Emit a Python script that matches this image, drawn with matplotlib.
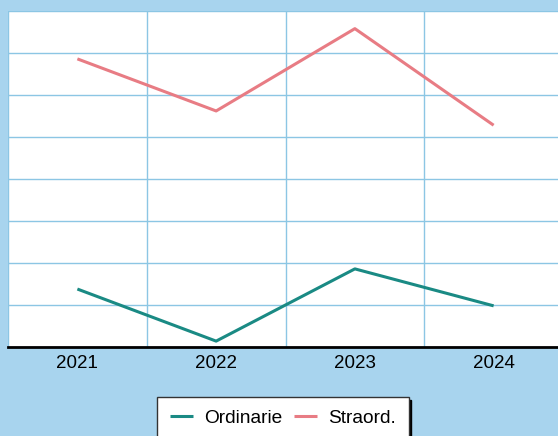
import matplotlib.pyplot as plt
import numpy as np

plt.rcParams['font.family'] = ['Liberation Sans', 'DejaVu Sans']

years = ['2021', '2022', '2023', '2024']
ordinarie = [6.9, 0.7, 9.3, 4.9]
straord = [34.3, 28.1, 37.9, 26.4]

bg = '#a8d4ee'
fig = plt.figure(figsize=(5.58, 4.36), dpi=100, facecolor=bg)
# plot area runs a little past the right edge, as in the reference
ax = fig.add_axes([8/558, 89/436, 555/558, 336/436])
ax.set_facecolor('white')

x = np.arange(len(years))
ax.plot(x, ordinarie, color='#1a8a84', lw=2.2, label='Ordinarie', solid_capstyle='butt')
ax.plot(x, straord, color='#e87c84', lw=2.2, label='Straord.', solid_capstyle='butt')

ax.set_xlim(-0.5, len(years) - 0.5)
ax.set_ylim(0, 40)
ax.set_xticks(x)
ax.set_xticklabels(years, fontsize=13.5)
ax.set_xticks(np.arange(-0.5, len(years), 1), minor=True)
ax.set_yticks(np.arange(0, 41, 5))
ax.set_yticklabels([])
ax.tick_params(axis='x', which='both', length=0, pad=6)
ax.tick_params(axis='y', length=0)
ax.grid(True, which='minor', axis='x', color='#8cc6e4', lw=1)
ax.grid(True, which='major', axis='y', color='#8cc6e4', lw=1)
ax.set_axisbelow(True)

for s in ['top', 'right', 'left']:
    ax.spines[s].set_visible(False)
ax.spines['bottom'].set_color('black')
ax.spines['bottom'].set_linewidth(2)

leg = fig.legend(loc='upper center', bbox_to_anchor=(283/558, 1 - 397/436), ncol=2,
                 fontsize=13.8, frameon=True, fancybox=False, shadow={'color': 'black', 'alpha': 1},
                 handlelength=1.2, handletextpad=0.6, columnspacing=0.6,
                 borderpad=0.65, borderaxespad=0)
leg.get_frame().set_edgecolor('#333333')
leg.get_frame().set_linewidth(1)

fig.savefig('out.png', dpi=100, facecolor=bg)
